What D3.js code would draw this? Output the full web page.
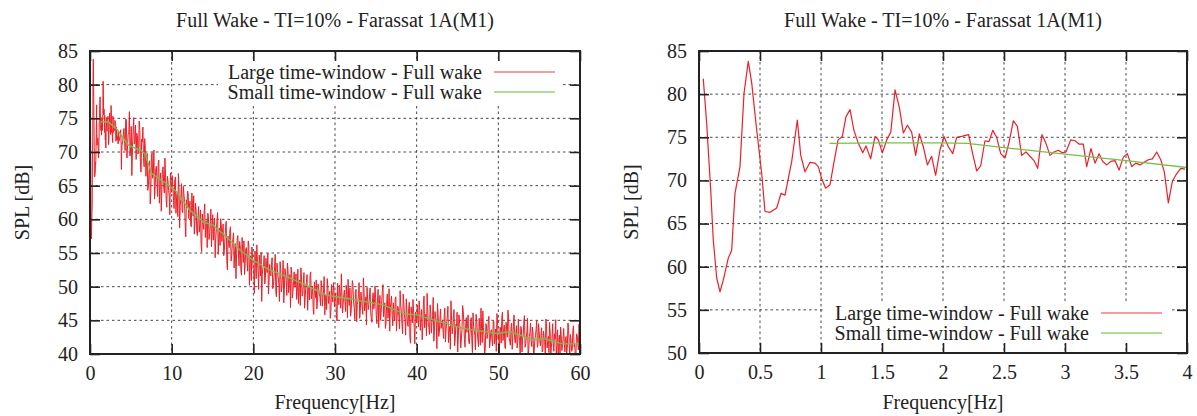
<!DOCTYPE html>
<html><head><meta charset="utf-8">
<script src="https://cdn.jsdelivr.net/npm/d3@7"></script>
<style>
body{margin:0;background:#fff}
svg text{font-family:"Liberation Serif","Times New Roman",serif;fill:#222}
</style>
</head><body>
<svg id="chart" width="1197" height="416"></svg>
<script>
// ---------------- data ----------------
const chartTitle = "Full Wake - TI=10% - Farassat 1A(M1)";
const xLabel = "Frequency[Hz]";
const yLabel = "SPL [dB]";
const seriesNames = ["Large time-window - Full wake", "Small time-window - Full wake"];

const leftXTicks = [0, 10, 20, 30, 40, 50, 60];
const leftYTicks = [40, 45, 50, 55, 60, 65, 70, 75, 80, 85];
const rightXTicks = [0, 0.5, 1, 1.5, 2, 2.5, 3, 3.5, 4];
const rightYTicks = [50, 55, 60, 65, 70, 75, 80, 85];

// large time-window spectrum, 0-4 Hz
const lowFreq = [0.035,0.063,0.096,0.117,0.145,0.172,0.2,0.24,0.268,0.295,0.336,0.369,0.404,0.432,0.467,0.514,0.541,0.582,0.637,0.672,
0.705,0.76,0.806,0.834,0.869,0.91,0.951,0.978,1.006,1.038,1.074,1.1,1.14,1.175,1.205,1.238,1.27,1.306,1.342,1.369,
1.407,1.443,1.47,1.503,1.539,1.572,1.607,1.643,1.675,1.708,1.743,1.776,1.806,1.839,1.872,1.907,1.94,1.975,2.008,2.044,
2.08,2.112,2.153,2.21,2.243,2.276,2.309,2.344,2.377,2.408,2.44,2.473,2.508,2.543,2.576,2.609,2.645,2.68,2.713,2.746,
2.776,2.811,2.844,2.877,2.91,2.945,2.978,3.008,3.047,3.082,3.117,3.15,3.178,3.213,3.246,3.279,3.309,3.342,3.375,3.41,
3.443,3.478,3.511,3.547,3.58,3.615,3.648,3.683,3.716,3.752,3.785,3.814,3.847,3.88,3.916,3.949,3.984];
const lowSPL = [81.8,76.6,68.9,63.1,58.7,57.1,58.5,61.0,61.9,68.5,71.6,80.1,83.8,81.3,76.6,70.8,66.4,66.3,66.8,68.5,
68.3,72.2,77.0,72.9,71.0,72.1,72.0,71.6,70.2,69.1,69.5,71.6,74.7,75.1,77.4,78.2,75.8,74.3,73.2,74.0,
72.5,75.1,74.7,73.2,74.7,75.6,80.5,78.4,75.5,76.4,75.6,72.9,75.4,73.9,71.8,72.8,70.6,73.5,75.1,73.9,
73.1,75.0,75.1,75.3,73.1,71.1,71.7,74.6,74.5,75.8,75.0,73.1,72.6,74.5,76.9,76.3,72.9,73.3,72.8,72.3,
71.4,75.3,74.3,72.9,73.3,73.5,73.2,73.3,74.7,74.6,74.2,74.2,71.6,73.7,72.0,73.1,72.2,71.8,72.2,72.3,
71.2,72.7,73.1,71.6,72.0,71.8,72.1,72.4,72.5,73.3,72.4,71.0,67.4,69.9,70.8,71.4,71.3];

// large time-window spectrum above 4 Hz: bins at 4.15 + k*0.15 Hz ...
const highStartFreq = 4.15, highBinWidth = 0.15;
const highSPL = [
73.5,70.2,74.8,71.0,72.9,69.4,73.8,70.5,75.1,71.6,68.9,72.4,70.1,73.2,67.0,71.5,69.2,72.0,66.4,69.8,
65.1,68.7,64.2,69.9,66.8,63.0,67.5,65.9,68.3,62.4,66.9,64.8,67.8,63.9,66.2,61.8,65.7,63.5,66.9,64.0,
64.9,61.6,66.3,63.2,60.4,64.7,62.1,65.3,61.0,63.8,59.5,62.9,64.2,60.1,62.7,58.9,61.8,63.5,59.6,61.2,
57.6,61.9,59.2,56.4,60.8,58.5,62.3,59.7,55.8,60.4,57.9,61.5,58.6,56.9,60.2,57.3,59.9,54.8,58.7,60.1,
56.7,59.3,55.4,58.8,53.9,57.5,55.8,58.9,54.6,57.1,52.8,56.4,54.9,57.6,53.1,55.9,51.7,55.2,56.8,53.4,
55.8,52.3,56.1,53.7,50.9,54.8,52.5,55.3,51.2,53.9,49.6,53.4,55.1,51.8,53.0,50.4,54.2,52.1,48.9,53.3,
51.6,54.3,50.2,52.8,49.4,53.5,51.3,47.8,52.6,50.1,53.9,49.6,51.9,48.7,52.4,50.5,46.9,51.8,49.3,52.2,
50.4,48.1,52.6,49.7,47.2,51.3,49.0,52.1,48.4,50.6,46.5,49.9,51.7,48.2,50.1,45.9,49.4,51.0,47.6,49.8,
48.5,50.9,47.1,49.6,45.8,48.8,51.2,47.5,49.3,46.4,48.9,50.6,47.0,49.1,44.9,48.3,50.2,46.8,48.7,47.4,
49.5,46.3,48.9,51.1,47.2,45.6,48.6,50.3,46.9,49.0,44.8,47.8,50.6,46.5,48.2,45.9,49.4,47.1,44.3,48.0,
47.3,49.8,45.2,48.4,46.7,50.1,45.8,47.9,43.9,48.7,46.2,49.3,45.5,47.6,44.6,48.9,46.0,43.4,47.8,45.7,
47.6,44.9,48.5,45.3,46.8,43.7,47.2,44.5,48.9,45.9,42.8,46.4,44.1,47.7,41.6,45.8,48.1,43.9,46.2,44.7,
45.1,47.9,43.5,46.6,44.2,48.6,45.4,42.7,46.9,44.0,47.3,43.1,45.7,41.9,46.3,44.8,47.5,42.6,45.2,43.8,
44.9,42.3,46.8,43.6,45.5,41.7,44.1,47.9,43.0,45.6,41.2,44.4,46.2,42.8,44.9,40.9,43.7,46.5,42.1,44.3,
43.2,45.8,41.5,44.6,42.4,46.1,43.5,40.6,44.9,42.0,45.3,41.3,43.8,46.4,42.5,40.8,44.2,42.9,45.6,41.8,
43.6,41.2,44.8,42.3,40.4,45.1,42.9,44.0,41.6,46.2,43.4,41.0,44.7,42.5,45.5,41.9,43.8,40.7,44.3,42.2,
43.1,40.9,45.2,42.0,44.1,40.3,42.8,45.7,41.5,43.4,39.8,42.6,44.6,41.1,43.0,40.5,42.7,45.0,41.4,43.3,
41.2,43.9,40.6,42.5,39.7,44.3,41.8,40.2,43.1,41.0,44.5,40.4,42.2,39.5,43.6,41.5,40.1,42.9,41.2,43.8,
40.3,42.6,41.0,43.9,39.8,42.1,40.7,44.2,41.4,39.9,42.8,40.6,43.3];
// ... and the in-between bins at 4.225 + k*0.15 Hz
const highMidSPL = [
71.8,74.9,69.1,72.6,76.0,70.7,66.5,73.1,71.2,74.0,72.8,69.7,74.6,68.2,71.9,73.7,67.8,70.4,68.9,64.3,
67.2,62.3,69.4,66.1,70.3,64.6,67.9,63.4,68.8,65.3,61.2,67.4,65.0,69.1,62.9,66.4,64.3,60.7,65.8,66.5,
62.8,65.7,60.9,63.9,66.8,58.7,63.0,61.4,64.9,62.6,57.4,61.7,63.8,62.1,59.3,63.9,60.5,57.8,62.4,58.2,
60.6,58.1,61.4,55.2,59.6,61.1,57.3,59.8,60.9,57.0,59.3,55.9,60.7,59.4,54.3,58.5,61.0,57.7,56.1,59.2,
58.1,54.6,57.2,59.7,52.5,56.6,58.3,53.8,56.2,58.0,55.3,51.2,57.1,55.0,56.7,52.4,57.3,53.6,51.8,55.6,
53.9,56.8,50.2,54.6,55.9,52.7,49.0,53.6,56.2,52.4,54.7,51.6,47.8,52.9,54.6,51.4,52.8,55.0,50.7,51.9,
53.3,49.7,51.4,54.8,48.5,52.1,50.4,53.7,49.2,51.5,47.6,52.7,50.9,53.5,49.1,51.8,52.9,48.3,50.8,49.9,
51.9,49.3,47.5,51.0,52.8,48.6,50.5,46.8,50.0,51.8,49.4,48.0,52.2,49.1,47.0,50.7,48.3,46.7,50.4,48.9,
47.2,50.1,48.4,51.5,47.8,46.6,50.0,48.6,45.3,50.3,47.7,49.5,48.3,45.7,50.5,47.3,49.0,51.9,46.1,48.8,
47.7,50.2,45.4,48.1,49.8,46.2,50.9,47.6,45.1,49.6,47.4,48.8,45.3,49.2,47.0,51.3,46.4,48.5,49.9,46.6,
48.8,46.1,44.7,49.1,47.5,48.2,44.5,49.6,47.1,45.0,48.0,50.3,46.9,43.8,47.4,45.3,49.7,46.8,48.6,44.2,
46.0,48.3,43.4,47.1,45.6,49.4,46.3,43.0,47.6,45.1,48.2,44.4,46.7,42.4,47.0,44.6,46.2,41.5,45.5,47.3,
44.0,46.5,45.3,42.1,47.4,43.9,45.9,49.0,44.3,42.9,46.0,44.7,48.4,43.3,45.4,40.8,45.9,43.2,46.7,44.9,
43.4,45.7,41.8,44.8,47.1,43.2,40.7,45.0,43.9,46.6,42.4,44.0,40.3,45.8,43.5,42.2,47.2,44.6,41.0,45.4,
44.5,41.9,43.0,45.4,40.2,44.1,42.7,45.9,43.3,41.1,44.0,46.8,41.7,43.9,39.9,44.5,42.3,45.0,40.9,43.4,
42.1,44.9,41.5,43.7,46.0,42.2,40.1,43.9,45.4,42.0,44.3,40.8,43.6,46.5,42.4,41.3,44.6,42.8,45.8,41.6,
44.2,41.7,42.9,39.9,43.8,42.4,44.9,41.0,42.5,45.3,40.6,43.2,41.8,44.0,39.6,42.2,43.7,41.0,44.5,42.0,
42.7,40.3,43.4,41.9,45.2,40.9,42.6,44.7,39.9,42.3,41.6,43.0,45.1,41.3,40.0,42.8,44.0,40.5,42.1,41.7,
42.4,40.1,44.6,41.5,42.9,40.4,43.5,41.1,39.7,43.0,41.8,44.4,41.2];

// small time-window spectrum (left panel, full range)
const smallFullFreq = [1.3,2.2,3.3,4.7,6.1,6.7,7.55,9.0,10.6,12.2,13.9,15.1,16.7,18.4,20.0,22.0,24.1,26.5,29.0,30.2,31.8,35.9,38.4,40.0,42.8,45.7,49.8,51.4,54.3,55.5,57.9,59.6,60];
const smallFullSPL = [74.5,74.5,73.4,71.0,70.3,69.8,66.8,65.6,64.1,61.4,59.6,59.1,57.4,55.4,53.9,52.5,51.5,50.2,48.7,48.5,48.2,47.3,46.0,45.8,44.8,43.8,43.05,43.3,42.1,42.3,41.5,41.5,41.5];

// small time-window spectrum (right panel, 0-4 Hz)
const smallLowFreq = [1.07,1.5,2.0,2.2,2.5,3.0,3.5,4.0];
const smallLowSPL = [74.3,74.35,74.35,74.3,73.8,73.05,72.3,71.5];

// ---------------- drawing ----------------
const RED = "#ec1f26", GREEN = "#74c04e";
const FONT = '"Liberation Serif","Times New Roman",serif';
const svg = d3.select("#chart");

const largeLow = lowFreq.map((f,i)=>[f, lowSPL[i]]);
const largeHigh = [];
highSPL.forEach((v,i)=>{
  largeHigh.push([highStartFreq + i*highBinWidth, v]);
  if (i < highMidSPL.length) largeHigh.push([highStartFreq + (i+0.5)*highBinWidth, highMidSPL[i]]);
});
const largeFull = largeLow.concat(largeHigh);
const smallFull = smallFullFreq.map((f,i)=>[f, smallFullSPL[i]]);
const smallLow = smallLowFreq.map((f,i)=>[f, smallLowSPL[i]]);

function panel(o){
  const {id,x0,x1,y0,y1,xDomain,yDomain,xTicks,yTicks,xFmt,red,green,redWidth,legendPos} = o;
  const g = svg.append("g");
  const x = d3.scaleLinear().domain(xDomain).range([x0,x1]);
  const y = d3.scaleLinear().domain(yDomain).range([y1,y0]);
  const W = x1-x0, H = y1-y0;

  g.append("defs").append("clipPath").attr("id","clip"+id)
    .append("rect").attr("x",x0).attr("y",y0).attr("width",W).attr("height",H);

  // grid
  const gridG = g.append("g").attr("stroke","#333").attr("stroke-width",0.9)
    .attr("stroke-dasharray","2.5,3").attr("fill","none");
  xTicks.slice(1,-1).forEach(t=>gridG.append("line").attr("x1",x(t)).attr("x2",x(t)).attr("y1",y0).attr("y2",y1));
  yTicks.slice(1,-1).forEach(t=>gridG.append("line").attr("x1",x0).attr("x2",x1).attr("y1",y(t)).attr("y2",y(t)));

  // data
  const line = d3.line().x(d=>x(d[0])).y(d=>y(d[1]));
  const dg = g.append("g").attr("clip-path",`url(#clip${id})`);
  dg.append("path").datum(red).attr("d",line).attr("fill","none").attr("stroke",RED)
    .attr("stroke-width",redWidth).attr("stroke-linejoin","round");
  dg.append("path").datum(green).attr("d",line).attr("fill","none").attr("stroke",GREEN)
    .attr("stroke-width",1.4);

  // legend
  const lg = g.append("g");
  const r1 = legendPos === "top" ? y0+21 : y1-40;
  lg.append("rect").attr("x",x1-362).attr("y",r1-12).attr("width",344).attr("height",43).attr("fill","#fff");
  [RED,GREEN].forEach((c,i)=>{
    const ry = r1 + i*20;
    lg.append("text").attr("x",x1-98).attr("y",ry).attr("dy","0.33em").attr("text-anchor","end")
      .attr("font-size",20).text(seriesNames[i]);
    lg.append("line").attr("x1",x1-86).attr("x2",x1-25).attr("y1",ry).attr("y2",ry)
      .attr("stroke", i===0 ? "#f07a7a" : "#8fd46c").attr("stroke-width",1.6);
  });

  // axes (inward ticks on all four sides)
  const tk = 10;
  const styleAxis = a => { a.attr("font-family",FONT).attr("font-size",20); a.select(".domain").remove();
    a.selectAll(".tick line").attr("stroke","#222").attr("stroke-width",1.6);
    a.selectAll("text").attr("fill","#222"); };
  g.append("g").attr("transform",`translate(0,${y1})`)
    .call(d3.axisBottom(x).tickValues(xTicks).tickFormat(xFmt).tickSize(-tk).tickPadding(12)).call(styleAxis);
  g.append("g").attr("transform",`translate(0,${y0})`)
    .call(d3.axisTop(x).tickValues(xTicks).tickFormat("").tickSize(-tk)).call(styleAxis);
  g.append("g").attr("transform",`translate(${x0},0)`)
    .call(d3.axisLeft(y).tickValues(yTicks).tickFormat(d3.format("d")).tickSize(-tk).tickPadding(12)).call(styleAxis);
  g.append("g").attr("transform",`translate(${x1},0)`)
    .call(d3.axisRight(y).tickValues(yTicks).tickFormat("").tickSize(-tk)).call(styleAxis);

  // frame
  g.append("rect").attr("x",x0).attr("y",y0).attr("width",W).attr("height",H)
    .attr("fill","none").attr("stroke","#222").attr("stroke-width",2);

  // titles
  g.append("text").attr("x",(x0+x1)/2).attr("y",27).attr("text-anchor","middle").attr("font-size",20).text(chartTitle);
  g.append("text").attr("x",(x0+x1)/2).attr("y",409).attr("text-anchor","middle").attr("font-size",20).text(xLabel);
  g.append("text").attr("transform",`translate(${x0-68},${(y0+y1)/2}) rotate(-90)`).attr("dy","0.33em")
    .attr("text-anchor","middle").attr("font-size",20).text(yLabel);
}

panel({id:"L",x0:90,x1:580,y0:51,y1:354,xDomain:[0,60],yDomain:[40,85],xTicks:leftXTicks,yTicks:leftYTicks,
  xFmt:d3.format("d"),red:largeFull,green:smallFull,redWidth:1.0,legendPos:"top"});
panel({id:"R",x0:699,x1:1187,y0:51,y1:353,xDomain:[0,4],yDomain:[50,85],xTicks:rightXTicks,yTicks:rightYTicks,
  xFmt:d=>String(d),red:largeLow,green:smallLow,redWidth:1.2,legendPos:"bottom"});
</script>
</body></html>
